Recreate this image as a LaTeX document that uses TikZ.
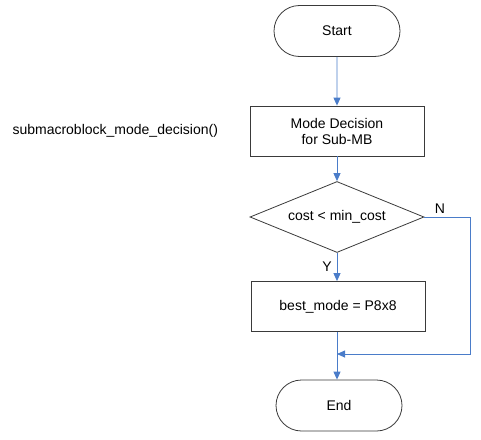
\documentclass[tikz,border=0pt]{standalone}
\usepackage{fontspec}
\setmainfont{Liberation Sans}
\usetikzlibrary{shapes.geometric,shapes.misc,arrows.meta}
\definecolor{flowblue}{HTML}{4A7CC9}
\definecolor{edgegray}{HTML}{3A3A3A}
\begin{document}
\begin{tikzpicture}[x=1pt,y=-1pt,
  font=\fontsize{14}{16}\selectfont,
  term/.style={draw=edgegray,line width=0.8pt,rounded rectangle,minimum width=126pt,minimum height=51pt,inner sep=0pt},
  proc/.style={draw=edgegray,line width=0.8pt,rectangle,minimum width=174pt,minimum height=50pt,inner sep=0pt,align=center},
  decis/.style={draw=edgegray,line width=0.8pt,diamond,aspect=2.45,minimum width=174pt,minimum height=71pt,inner sep=0pt},
  flow/.style={draw=flowblue,line width=0.9pt,-{Triangle[length=8pt,width=7pt]}},
  lbl/.style={text=black}]
\useasboundingbox (0,0) rectangle (481,439);
\node[term] (start) at (337,31) {Start};
\node[proc] (mode) at (337,131) {Mode Decision\\for Sub-MB};
\node[decis] (dec) at (337,217) {cost < min\_cost};
\node[proc] (best) at (338,306.5) {best\_mode = P8x8};
\node[term] (end) at (339,405.5) {End};
\node[lbl,anchor=west] (func) at (9,131) {submacroblock\_mode\_decision()};
\node[lbl] (ylab) at (327,267) {Y};
\node[lbl] (nlab) at (440,209) {N};
\coordinate (join) at (337,354);
\coordinate (rt) at (470,217);
\coordinate (rb) at (470,354);
\draw[flow] (start) -- (mode);
\draw[flow] (mode) -- (dec);
\draw[flow] (dec.south) -- (best.north -| dec.south);
\draw[draw=flowblue,line width=0.9pt] (best.south -| join) -- (join);
\draw[flow] (join) -- (end.north -| join);
\draw[flow] (dec.east) -- (rt) -- (rb) -- (join);
\end{tikzpicture}
\end{document}
